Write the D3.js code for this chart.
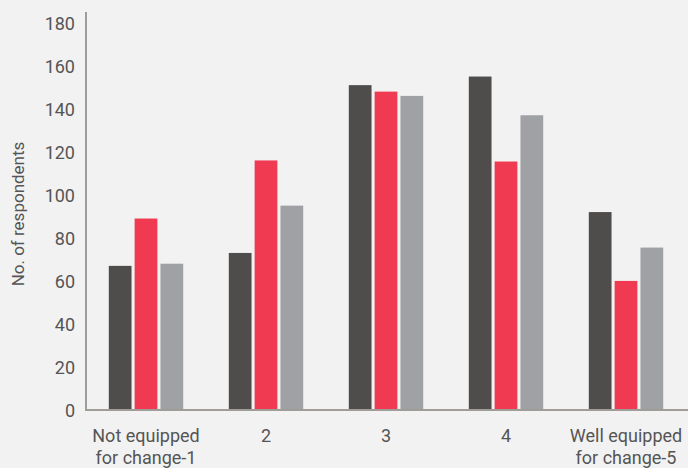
<!DOCTYPE html>
<html><head><meta charset="utf-8">
<script src="https://cdn.jsdelivr.net/npm/d3@7"></script>
<style>
html,body{margin:0;padding:0;background:#f2f2f2;}
svg{display:block;}
text{font-family:"Liberation Sans Narrow","Roboto","Liberation Sans",sans-serif;fill:#555555;}
</style></head>
<body>
<svg id="chart" width="688" height="468"></svg>
<script>
const categories = ["Not equipped|for change-1", "2", "3", "4", "Well equipped|for change-5"];
const seriesNames = ["Series A", "Series B", "Series C"];
const seriesA = [67, 73, 151, 155, 92];
const seriesB = [89, 116, 148, 115.5, 60];
const seriesC = [68, 95, 146, 137, 75.5];
const yTicks = [0, 20, 40, 60, 80, 100, 120, 140, 160, 180];
const colors = ["#4f4d4b", "#f03a52", "#a0a1a5"];

const svg = d3.select("#chart");
const x0 = 86, x1 = 686, yBase = 410, yTop = 12;

const x = d3.scaleBand().domain(categories).range([x0, x1]).paddingInner(0.38).paddingOuter(0.19);
const xs = d3.scaleBand().domain(seriesNames).range([0, x.bandwidth()]).paddingInner(0.12).paddingOuter(0);
const y = d3.scaleLinear().domain([0, 185]).range([yBase, yTop]);

const series = [seriesA, seriesB, seriesC];
const rows = categories.map((c, i) => ({cat: c, vals: series.map((s, j) => ({name: seriesNames[j], v: s[i], color: colors[j]}))}));

const g = svg.append("g").selectAll("g").data(rows).join("g")
  .attr("transform", d => `translate(${x(d.cat)},0)`);
g.selectAll("rect").data(d => d.vals).join("rect")
  .attr("x", d => xs(d.name))
  .attr("width", xs.bandwidth())
  .attr("y", d => y(d.v))
  .attr("height", d => y(0) - y(d.v))
  .attr("fill", d => d.color);

// y axis
const yAxis = svg.append("g").attr("transform", `translate(${x0},0)`)
  .call(d3.axisLeft(y).tickValues(yTicks).tickSize(0).tickPadding(11));
yAxis.select(".domain").remove();
yAxis.selectAll("text").attr("font-size", 18).attr("dy", "0.36em")
  .style("font-family", '"Liberation Sans Narrow","Roboto",sans-serif').attr("fill", "#555");
svg.append("line").attr("x1", x0).attr("x2", x0).attr("y1", yTop).attr("y2", yBase + 1)
  .attr("stroke", "#a09c98").attr("stroke-width", 2);

// x axis
const xAxis = svg.append("g").attr("transform", `translate(0,${yBase})`)
  .call(d3.axisBottom(x).tickSize(0).tickFormat(""));
xAxis.select(".domain").remove();
svg.append("line").attr("x1", x0 - 1).attr("x2", 688).attr("y1", yBase).attr("y2", yBase)
  .attr("stroke", "#a09c98").attr("stroke-width", 2);

xAxis.selectAll(".tick").each(function(d) {
  const t = d3.select(this).append("text").attr("text-anchor", "middle")
    .attr("font-size", 18).attr("fill", "#555");
  d.split("|").forEach((line, i) => {
    t.append("tspan").attr("x", 0).attr("y", 32 + i * 22).text(line);
  });
});

svg.append("text").attr("transform", `translate(24,214) rotate(-90)`)
  .attr("text-anchor", "middle").attr("font-size", 17).text("No. of respondents");
</script>
</body></html>
